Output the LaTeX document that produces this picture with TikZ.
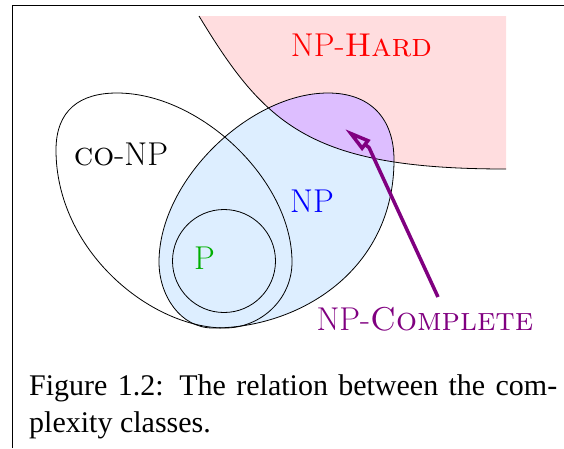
\documentclass[tikz,border=0pt]{standalone}
\usepackage{fontspec}
\newfontfamily\capfont{Liberation Serif}
\usetikzlibrary{arrows.meta}
\definecolor{hardfill}{RGB}{255,221,223}
\definecolor{npfill}{RGB}{221,238,255}
\definecolor{compfill}{RGB}{221,190,255}
\definecolor{comppurple}{RGB}{128,0,128}
\definecolor{pgreen}{RGB}{0,175,0}
\begin{document}
\begin{tikzpicture}[x=1pt,y=-1pt,
  lbl/.style={font=\fontsize{33}{39}\selectfont, inner sep=0pt, anchor=base},
  outline/.style={line width=0.8pt, line join=round},
  capline/.style={font=\capfont\fontsize{30}{36}\selectfont, inner sep=0pt, anchor=base west}]
\useasboundingbox (0,0) rectangle (564,448);
\def\hardcurve{(199,16) .. controls (265,125) and (310,169) .. (506,169)}
\def\npshape{(328,93) .. controls (370,93) and (394,118) .. (394,160)
  .. controls (394,270) and (300,328) .. (213,328)
  .. controls (180,328) and (159,295) .. (159,262)
  .. controls (159,180) and (250,93) .. (328,93) -- cycle}
% NP-hard region
\fill[hardfill] \hardcurve -- (506,16) -- cycle;
% NP region
\fill[npfill] \npshape;
\begin{scope}
  \clip \npshape;
  \fill[compfill] \hardcurve -- (506,16) -- cycle;
\end{scope}
\draw[outline] \hardcurve;
\draw[outline] \npshape;
% co-NP
\draw[outline] (117,93) .. controls (200,93) and (292,180) .. (292,262)
  .. controls (292,300) and (260,328) .. (225,328)
  .. controls (150,328) and (56,250) .. (56,150)
  .. controls (56,110) and (80,93) .. (117,93) -- cycle;
% P
\draw[outline] (224,261) circle[radius=51.5pt];
% labels
\node[lbl, text=red] (hard) at (361.5,56) {NP-\textsc{Hard}};
\node[lbl] (conp) at (121,165) {\textsc{co}-NP};
\node[lbl, text=blue] (np) at (312,212) {NP};
\node[lbl, text=pgreen] (p) at (204.5,269) {P};
\node[lbl, text=comppurple] (complete) at (425,330) {NP-\textsc{Complete}};
% arrow
\coordinate (tail) at (438,297);
\coordinate (knee) at (369,147.5);
\coordinate (tip) at (345,129);
\draw[comppurple, line width=3.5pt, -{Triangle[open, length=27pt, width=13pt]}] (tail) -- (knee) -- (tip);
% frame
\draw[line width=1pt] (12,448) -- (12,5) -- (564,5);
% caption
\node[capline] (cap1) at (29,395) {\makebox[528pt][s]{Figure 1.2: The relation between the com-}};
\node[capline] (cap2) at (29,432) {plexity classes.};
\end{tikzpicture}
\end{document}
